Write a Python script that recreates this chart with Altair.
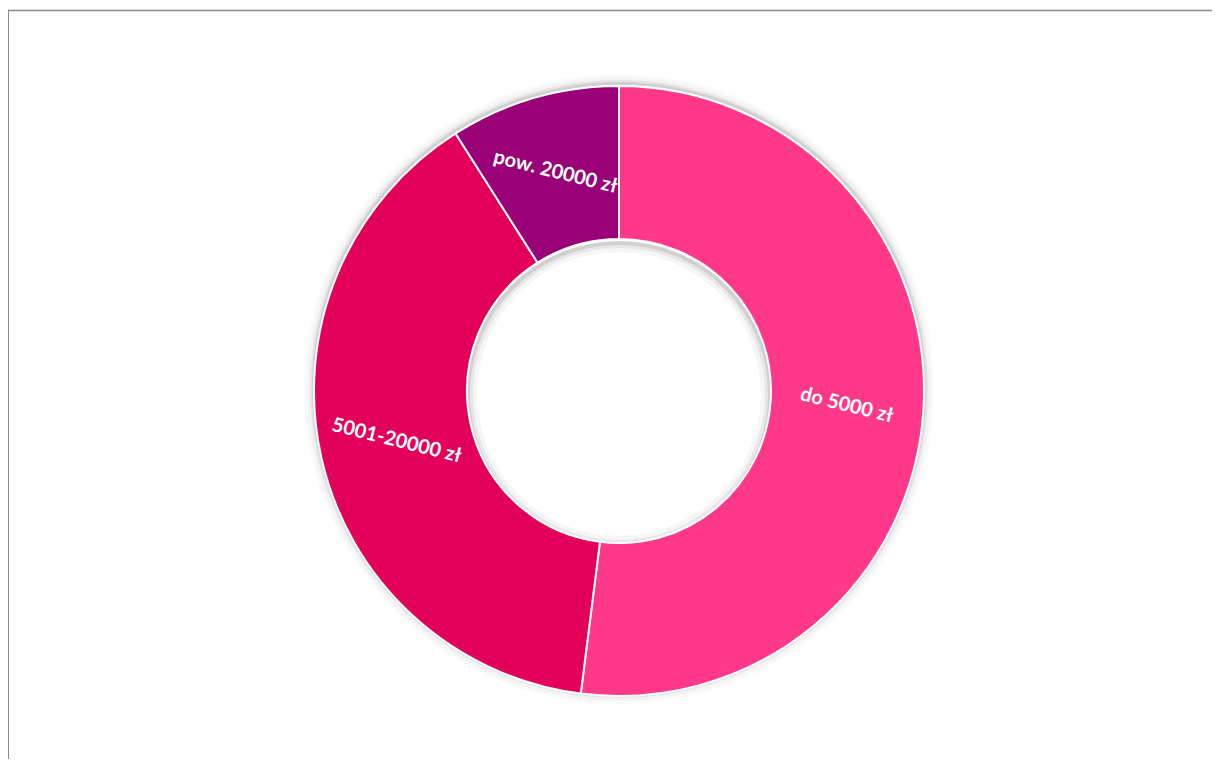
import altair as alt
import pandas as pd

categories = ["do 5000 zł", "5001-20000 zł", "pow. 20000 zł"]
values = [52, 39, 9]
colors = ["#FF3889", "#E3005A", "#990078"]

df = pd.DataFrame({"kat": categories, "val": values, "ord": [0, 1, 2]})

CX, CY = 611, 383
R_OUT, R_IN = 305, 152
TWO_PI = 6.2831853

color = alt.Color("kat:N", scale=alt.Scale(domain=categories, range=colors), legend=None)
theta = alt.Theta("val:Q", stack=True)
order = alt.Order("ord:Q")

one = pd.DataFrame({"v": [1]})
shadow_layers = []
for r0, r1, op in [(304, 307, 0.28), (307, 309, 0.16), (309, 312, 0.07), (312, 315, 0.03)]:
    shadow_layers.append(
        alt.Chart(one).mark_arc(theta=0, theta2=TWO_PI, radius=r1, radius2=r0,
                                color="#555555", opacity=op)
        .encode(x=alt.value(CX), y=alt.value(CY - 2))
    )
for r0, r1, op in [(149, 153, 0.28), (146, 149, 0.14), (142, 146, 0.05)]:
    shadow_layers.append(
        alt.Chart(one).mark_arc(theta=0, theta2=TWO_PI, radius=r1, radius2=r0,
                                color="#555555", opacity=op)
        .encode(x=alt.value(CX), y=alt.value(CY + 3))
    )

arcs = alt.Chart(df).mark_arc(radius=R_OUT, radius2=R_IN, stroke="white", strokeWidth=2).encode(
    theta=theta, color=color, order=order, x=alt.value(CX), y=alt.value(CY)
)

labels = alt.Chart(df).mark_text(
    radius=228, angle=14, color="white", fontSize=20, fontWeight="bold", font="Lato"
).encode(
    theta=theta, text="kat:N", order=order, x=alt.value(CX), y=alt.value(CY)
)

frame_top = alt.Chart(one).mark_rule(color="#8a8a8a", strokeWidth=1.5).encode(
    x=alt.value(-1), x2=alt.value(1212), y=alt.value(2.5)
)
frame_left = alt.Chart(one).mark_rule(color="#8a8a8a", strokeWidth=2).encode(
    x=alt.value(0), y=alt.value(2), y2=alt.value(760)
)

chart = alt.layer(*shadow_layers, arcs, labels, frame_top, frame_left).properties(
    width=1204, height=751, padding=0, autosize=alt.AutoSizeParams(type="none")
).configure_view(stroke=None)

chart.save("out.html", embed_options={"renderer": "svg", "actions": False})
